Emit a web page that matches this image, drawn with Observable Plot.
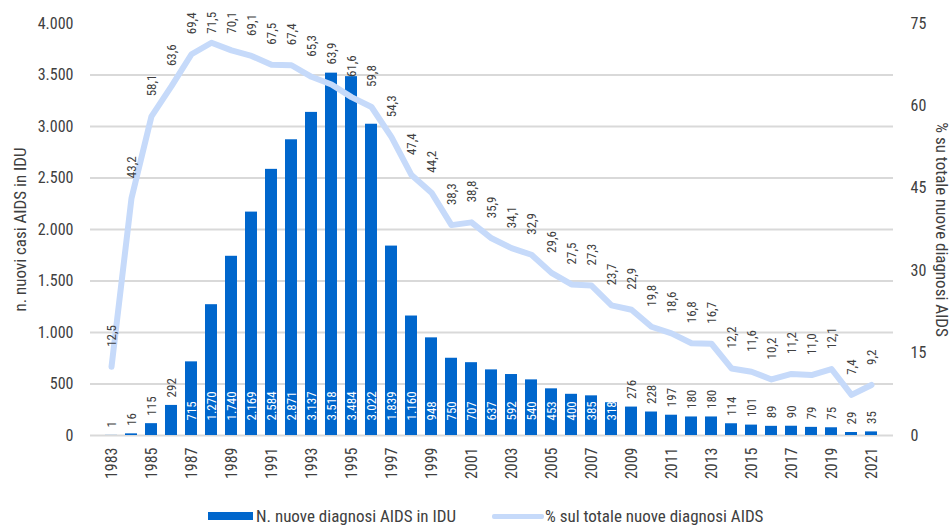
<!DOCTYPE html>
<html><head><meta charset="utf-8">
<script src="https://cdn.jsdelivr.net/npm/d3@7"></script>
<script src="https://cdn.jsdelivr.net/npm/@observablehq/plot@0.6"></script>
<style>
body{margin:0;background:#fff;}
#wrap{width:951px;font-family:"Liberation Sans Narrow","Arial Narrow","Roboto Condensed","Liberation Sans",sans-serif;color:#404040;}
#legend{position:relative;height:32px;font-size:17px;}
#legend .item{position:absolute;top:0;height:32px;display:flex;align-items:center;}
#legend .sw-bar{width:45px;height:8px;background:#0066CC;margin-right:3px;}
#legend .sw-line{width:52px;height:5px;background:#C6DAFA;border-radius:2px;margin-right:1px;}
svg{display:block;}
</style></head><body><div id="wrap"><div id="chart"></div><div id="legend"></div></div>
<script>
const years = [1983,1984,1985,1986,1987,1988,1989,1990,1991,1992,1993,1994,1995,1996,1997,1998,1999,2000,2001,2002,2003,2004,2005,2006,2007,2008,2009,2010,2011,2012,2013,2014,2015,2016,2017,2018,2019,2020,2021];
const counts = [1,16,115,292,715,1270,1740,2169,2584,2871,3137,3518,3484,3022,1839,1160,948,750,707,637,592,540,453,400,385,318,276,228,197,180,180,114,101,89,90,79,75,29,35];
const pcts = [12.5,43.2,58.1,63.6,69.4,71.5,70.1,69.1,67.5,67.4,65.3,63.9,61.6,59.8,54.3,47.4,44.2,38.3,38.8,35.9,34.1,32.9,29.6,27.5,27.3,23.7,22.9,19.8,18.6,16.8,16.7,12.2,11.6,10.2,11.2,11.0,12.1,7.4,9.2];
const leftTicks = [0,500,1000,1500,2000,2500,3000,3500,4000];
const gridTicks = [0,500,1000,1500,2000,2500,3000,3500];
const rightTicks = [0,15,30,45,60,75];
const xTickYears = years.filter(y => y % 2 === 1);
const barLabel = "N. nuove diagnosi AIDS in IDU";
const lineLabel = "% sul totale nuove diagnosi AIDS";
const leftTitle = "n. nuovi casi AIDS in IDU";
const rightTitle = "% su totale nuove diagnosi AIDS";

const K = 4000 / 75;
const loc = d3.formatLocale({decimal: ",", thousands: ".", grouping: [3]});
const fInt = loc.format(",");
const fPct = loc.format(".1f");

const data = years.map((y, i) => ({year: y, n: counts[i], p: pcts[i]}));
const FONT = "Liberation Sans Narrow, Arial Narrow, Roboto Condensed, Liberation Sans, sans-serif";

const chart = Plot.plot({
  width: 951,
  height: 500,
  marginTop: 23,
  marginBottom: 65,
  marginLeft: 90,
  marginRight: 58,
  style: {fontFamily: FONT, color: "#404040", background: "#fff"},
  x: {type: "band", domain: years, paddingInner: 0.38, paddingOuter: 0.19},
  y: {domain: [0, 4000]},
  marks: [
    Plot.gridY(gridTicks, {stroke: "#D9D9D9", strokeOpacity: 1, strokeWidth: 2}),
    Plot.barY(data, {x: "year", y: "n", fill: "#0066CC"}),
    Plot.lineY(data, {x: "year", y: d => d.p * K, stroke: "#C6DAFA", strokeWidth: 6, strokeLinejoin: "round", strokeLinecap: "round"}),
    // bar labels inside (white)
    Plot.text(data.filter(d => d.n > 300), {x: "year", y: () => 0, text: d => fInt(d.n), rotate: -90, textAnchor: "start", dy: -15, fill: "#fff", fontSize: 13}),
    // bar labels above (dark)
    Plot.text(data.filter(d => d.n <= 300), {x: "year", y: "n", text: d => fInt(d.n), rotate: -90, textAnchor: "start", dy: -8, fill: "#404040", fontSize: 13}),
    // percentage labels
    Plot.text(data, {x: "year", y: d => Math.min(d.p, 69.5) * K, text: d => fPct(d.p), rotate: -90, textAnchor: "start", dy: -20, fill: "#404040", fontSize: 13}),
    Plot.axisY(leftTicks, {anchor: "left", tickSize: 0, tickPadding: 17, tickFormat: d => fInt(d), fontSize: 16, label: null, fill: "#404040"}),
    Plot.axisY(rightTicks.map(t => t * K), {anchor: "right", tickSize: 0, tickPadding: 17, tickFormat: d => String(Math.round(d / K)), fontSize: 16, label: null, fill: "#404040"}),
    Plot.axisX(xTickYears, {tickSize: 0, tickPadding: 12, tickRotate: -90, tickFormat: d => String(d), fontSize: 16, label: null, fill: "#404040"}),
    Plot.text([leftTitle], {frameAnchor: "left", textAnchor: "middle", dx: -70, rotate: -90, fontSize: 17, fill: "#404040"}),
    Plot.text([rightTitle], {frameAnchor: "right", textAnchor: "middle", dx: 48, rotate: 90, fontSize: 17, fill: "#404040"})
  ]
});
document.getElementById("chart").appendChild(chart);

const legend = document.getElementById("legend");
legend.innerHTML = `<div class="item" style="left:208px"><div class="sw-bar"></div><span>${barLabel}</span></div>
<div class="item" style="left:492px"><div class="sw-line"></div><span>${lineLabel}</span></div>`;
</script>
</body></html>
